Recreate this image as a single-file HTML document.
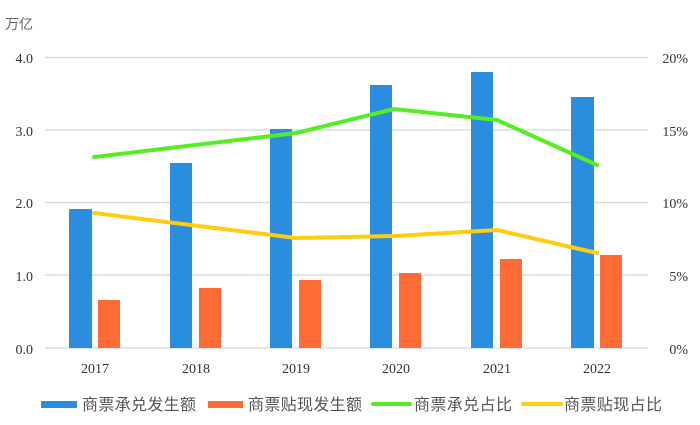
<!DOCTYPE html>
<html><head><meta charset="utf-8"><style>body{margin:0;background:#fff}svg{display:block}text{font-family:"Liberation Serif","Noto Serif CJK SC",serif;fill:#333;font-size:14px}.lg{font-family:"Liberation Sans","Noto Sans CJK SC",sans-serif;font-size:16px;fill:#555}</style></head><body>
<svg width="700" height="425" viewBox="0 0 700 425">
<text x="5" y="29" style="font-family:'Liberation Sans','Noto Sans CJK SC',sans-serif;fill:#666;font-size:14px">万亿</text>
<g stroke="#d9dde0" stroke-width="1.5">
<line x1="45" y1="57.5" x2="648" y2="57.5"/><line x1="45" y1="130" x2="648" y2="130"/><line x1="45" y1="202.5" x2="648" y2="202.5"/><line x1="45" y1="275" x2="648" y2="275"/><line x1="45" y1="348" x2="648" y2="348"/></g>
<g text-anchor="end"><text x="33" y="63">4.0</text><text x="33" y="136">3.0</text><text x="33" y="208">2.0</text><text x="33" y="281">1.0</text><text x="33" y="354">0.0</text></g>
<g text-anchor="end"><text x="688" y="63">20%</text><text x="688" y="136">15%</text><text x="688" y="208">10%</text><text x="688" y="281">5%</text><text x="688" y="354">0%</text></g>
<g fill="#2a8de0"><rect x="69" y="209" width="23" height="139"/><rect x="170" y="163" width="22" height="185"/><rect x="270" y="129" width="22" height="219"/><rect x="370" y="85" width="22" height="263"/><rect x="471" y="72" width="22" height="276"/><rect x="571" y="97" width="23" height="251"/></g>
<g fill="#ff6b35"><rect x="98" y="300" width="22" height="48"/><rect x="199" y="288" width="22" height="60"/><rect x="299" y="280" width="22" height="68"/><rect x="399" y="273" width="22" height="75"/><rect x="500" y="259" width="22" height="89"/><rect x="600" y="255" width="22" height="93"/></g>
<polyline points="94,157 296,133 394,109 497,120 597,165" fill="none" stroke="#55ee22" stroke-width="4" stroke-linecap="round"/>
<polyline points="94,213 296,238 394,236 497,230 597,253" fill="none" stroke="#ffcc11" stroke-width="4" stroke-linecap="round"/>
<g text-anchor="middle"><text x="95" y="373">2017</text><text x="196" y="373">2018</text><text x="296" y="373">2019</text><text x="396" y="373">2020</text><text x="497" y="373">2021</text><text x="597" y="373">2022</text></g>
<rect x="41" y="401" width="36" height="7" fill="#2a8de0"/><text x="82" y="410" class="lg" textLength="114">商票承兑发生额</text>
<rect x="208" y="401" width="35" height="7" fill="#ff6b35"/><text x="248" y="410" class="lg" textLength="114">商票贴现发生额</text>
<line x1="373" y1="404" x2="410" y2="404" stroke="#55ee22" stroke-width="4" stroke-linecap="round"/><text x="414" y="410" class="lg" textLength="98">商票承兑占比</text>
<line x1="523" y1="404" x2="561" y2="404" stroke="#ffcc11" stroke-width="4" stroke-linecap="round"/><text x="564" y="410" class="lg" textLength="98">商票贴现占比</text>
</svg></body></html>
